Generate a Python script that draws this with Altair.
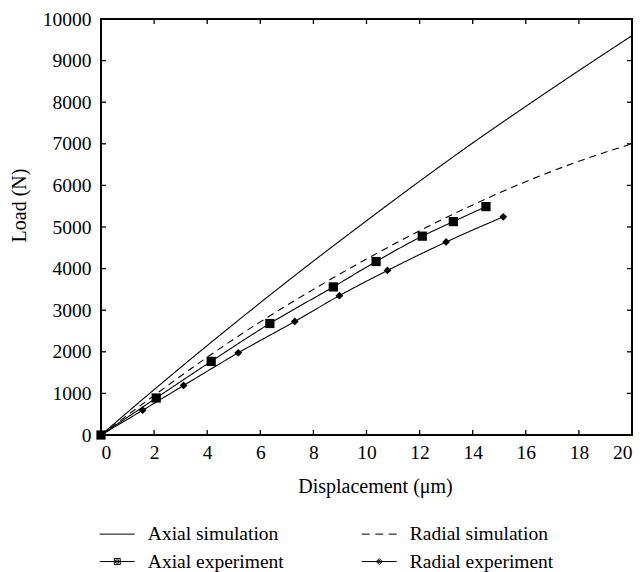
import altair as alt
import pandas as pd

# ---- data -------------------------------------------------------------
sim_disp = [0, 2, 4, 6, 8, 10, 12, 14, 16, 18, 20]
axial_sim = [0, 1090, 2150, 3180, 4180, 5150, 6100, 7020, 7900, 8760, 9600]
radial_sim = [0, 950, 1870, 2720, 3500, 4230, 4910, 5530, 6090, 6580, 7000]

axial_exp_disp = [0, 2.08, 4.15, 6.36, 8.75, 10.36, 12.10, 13.27, 14.50]
axial_exp_load = [0, 890, 1770, 2680, 3560, 4170, 4780, 5130, 5490]

radial_exp_disp = [0, 1.57, 3.11, 5.17, 7.30, 8.98, 10.79, 13.00, 15.15]
radial_exp_load = [0, 595, 1190, 1975, 2730, 3350, 3955, 4640, 5245]

series_names = ["Axial simulation", "Radial simulation",
                "Axial experiment", "Radial experiment"]

x_labels = [0, 2, 4, 6, 8, 10, 12, 14, 16, 18, 20]
y_labels = [0, 1000, 2000, 3000, 4000, 5000, 6000, 7000, 8000, 9000, 10000]
x_ticks = [2, 4, 6, 8, 10, 12, 14, 16, 18]
y_ticks = [1000, 2000, 3000, 4000, 5000, 6000, 7000, 8000, 9000]
x_range = [0, 20]
y_range = [0, 10000]

FONT = "Liberation Serif"
W, H = 531, 416

# ---- one table for curves and frame ticks ------------------------------
rows = []
for name, xs, ys in [
    ("Axial simulation", sim_disp, axial_sim),
    ("Radial simulation", sim_disp, radial_sim),
    ("Axial experiment", axial_exp_disp, axial_exp_load),
    ("Radial experiment", radial_exp_disp, radial_exp_load),
]:
    for i, (xv, yv) in enumerate(zip(xs, ys)):
        rows.append({"kind": "curve", "series": name, "disp": xv,
                     "load": yv, "order": i})
for t in x_ticks:
    rows.append({"kind": "tick_bottom", "series": "", "disp": t,
                 "load": y_range[0], "order": 0})
    rows.append({"kind": "tick_top", "series": "", "disp": t,
                 "load": y_range[1], "order": 0})
for t in y_ticks:
    rows.append({"kind": "tick_left", "series": "", "disp": x_range[0],
                 "load": t, "order": 0})
    rows.append({"kind": "tick_right", "series": "", "disp": x_range[1],
                 "load": t, "order": 0})
df = pd.DataFrame(rows)

x_scale = alt.Scale(domain=x_range, nice=False, zero=False)
y_scale = alt.Scale(domain=y_range, nice=False, zero=False)

axis_common = dict(ticks=False, domain=False, grid=False, format="d",
                   labelFont=FONT, labelFontSize=19.5, labelColor="black",
                   titleFont=FONT, titleFontSize=20, titleFontWeight="normal",
                   titleColor="black")

x_main = alt.X("disp:Q", scale=x_scale, axis=alt.Axis(
    values=x_labels, title="Displacement (μm)", labelPadding=8,
    titleX=274, titleY=57, titleBaseline="alphabetic", **axis_common))
y_main = alt.Y("load:Q", scale=y_scale, axis=alt.Axis(
    values=y_labels, title="Load (N)", labelPadding=10,
    titleX=-82, titleY=186, titleAngle=-90, titleAlign="center",
    titleBaseline="middle", **axis_common))

dash_scale = alt.Scale(domain=series_names,
                       range=[[1, 0], [7, 5], [1, 0], [1, 0]])

base = alt.Chart(df)
curves = base.transform_filter(alt.datum.kind == "curve")

# curves for all four series
lines = curves.mark_line(color="black", strokeWidth=1.1, clip=False,
                         interpolate="monotone").encode(
    x=x_main, y=y_main,
    detail="series:N",
    order="order:Q",
    strokeDash=alt.StrokeDash("series:N", scale=dash_scale, legend=None),
)

# experimental markers
squares = base.transform_filter(
    alt.datum.series == "Axial experiment"
).mark_point(shape="square", filled=True, color="black", opacity=1,
             size=85, clip=False).encode(x="disp:Q", y="load:Q")

diamonds = base.transform_filter(
    alt.datum.series == "Radial experiment"
).mark_point(shape="diamond", filled=True, color="black", opacity=1,
             size=60, clip=False).encode(x="disp:Q", y="load:Q")

# legend symbols: a short line (solid or dashed) with an optional marker
legend_shapes = [
    "M-3.5,0H3.5",
    "M-3.5,0H-1.9M-0.8,0H0.8M1.9,0H3.5",
    "M-3.5,0H3.5M-0.6,-0.6H0.6V0.6H-0.6ZM-0.3,-0.3H0.3V0.3H-0.3Z",
    "M-3.5,0H3.5M0,-0.6L0.6,0L0,0.6L-0.6,0ZM0,-0.3L0.3,0L0,0.3L-0.3,0Z",
]
# legend carrier: one point per series at the origin, clipped to the frame
legend_layer = curves.transform_filter(alt.datum.order == 0).mark_point(
    filled=False, strokeWidth=1, opacity=1, color="black", clip=True,
).encode(
    x="disp:Q", y="load:Q",
    shape=alt.Shape(
        "series:N", title=None,
        scale=alt.Scale(domain=series_names, range=legend_shapes),
        legend=alt.Legend(
            orient="none", legendX=6.5, legendY=505, direction="horizontal",
            columns=2, columnPadding=75, rowPadding=6.8, padding=0,
            symbolSize=100, symbolStrokeWidth=1,
            labelFont=FONT, labelFontSize=19.5, labelColor="black",
            labelOffset=20.8, labelLimit=400,
        ),
    ),
)


# inward frame ticks: 5px strokes pointing into the plot from each side
def frame_ticks(kind, path):
    return base.transform_filter(alt.datum.kind == kind).mark_point(
        shape=path, size=100, filled=False, color="black", opacity=1,
        strokeWidth=1.3, clip=False,
    ).encode(x="disp:Q", y="load:Q")


ticks_bottom = frame_ticks("tick_bottom", "M0,0V-1")
ticks_top = frame_ticks("tick_top", "M0,0V1")
ticks_left = frame_ticks("tick_left", "M0,0H1")
ticks_right = frame_ticks("tick_right", "M0,0H-1")

chart = alt.layer(
    lines, squares, diamonds, legend_layer,
    ticks_bottom, ticks_top, ticks_left, ticks_right,
).resolve_scale(
    shape="independent",
).properties(
    width=W, height=H,
    autosize=alt.AutoSizeParams(type="none"),
    padding={"left": 101, "top": 19, "right": 643 - 101 - W,
             "bottom": 572 - 19 - H},
    background="white",
).configure_view(
    stroke="black", strokeWidth=2,
)

chart.save("out.html", embed_options={"renderer": "svg", "actions": False})
